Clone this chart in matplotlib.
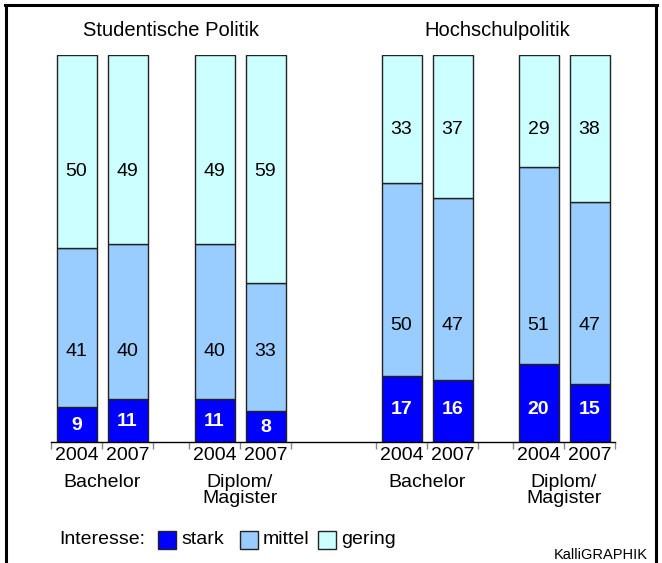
import matplotlib
matplotlib.use("Agg")
import matplotlib.pyplot as plt
from matplotlib.patches import Rectangle
from matplotlib.lines import Line2D

plt.rcParams['font.family'] = ['Liberation Sans', 'DejaVu Sans']

# ---- data ----
panels = ["Studentische Politik", "Hochschulpolitik"]
degrees = ["Bachelor", "Diplom/\nMagister"]
years = ["2004", "2007"]
stark = [9, 11, 11, 8, 17, 16, 20, 15]
mittel = [41, 40, 40, 33, 50, 47, 51, 47]
gering = [50, 49, 49, 59, 33, 37, 29, 38]
levels = ["stark", "mittel", "gering"]
legend_title = "Interesse:"
credit = "KalliGRAPHIK"

colors = {"stark": "#0000FF", "mittel": "#99CCFF", "gering": "#CCFFFF"}

W, H = 662, 563
fig = plt.figure(figsize=(W / 100, H / 100), dpi=100)

def fx(x):
    return x / W

def fy(y):
    return 1 - y / H

# axes: x in pixel units, y in percent
y_base, y_top = 441.5, 55
ax = fig.add_axes([0, fy(y_base), 1, fy(y_top) - fy(y_base)])
ax.set_xlim(0, W)
ax.set_ylim(0, 100)

centers = [76.5, 127.5, 214.5, 265.5, 401.5, 452.5, 538.5, 589.5]
bw = 40
edge = "#222222"
ax.bar(centers, stark, width=bw, color=colors["stark"], edgecolor=edge, linewidth=1.0)
ax.bar(centers, mittel, width=bw, bottom=stark, color=colors["mittel"], edgecolor=edge, linewidth=1.0)
bot2 = [s + m for s, m in zip(stark, mittel)]
ax.bar(centers, gering, width=bw, bottom=bot2, color=colors["gering"], edgecolor=edge, linewidth=1.0)

for sp in ["top", "left", "right"]:
    ax.spines[sp].set_visible(False)
ax.spines["bottom"].set_bounds(51, 615)
ax.spines["bottom"].set_linewidth(1.0)
ax.set_yticks([])
bounds = [51, 102, 153, 189, 240, 291, 376, 427, 478, 513, 564, 615]
ax.set_xticks(bounds)
ax.set_xticklabels([])
ax.tick_params(axis="x", direction="out", length=5, width=1, color="#888888")

fs = 14
# value labels
pix_per_pct = (y_base - y_top) / 100
row_y = {0: {"mittel": 351, "gering": 172}, 1: {"mittel": 325, "gering": 130, "stark": 410}}
for i, c in enumerate(centers):
    g = 0 if i < 4 else 1
    if g == 0:
        ys = y_base - stark[i] * pix_per_pct / 2 + 1
    else:
        ys = row_y[1]["stark"]
    fig.text(fx(c), fy(ys), str(stark[i]), ha="center", va="center",
             color="white", fontsize=fs, fontweight="bold")
    fig.text(fx(c), fy(row_y[g]["mittel"]), str(mittel[i]), ha="center", va="center",
             color="black", fontsize=fs)
    fig.text(fx(c), fy(row_y[g]["gering"]), str(gering[i]), ha="center", va="center",
             color="black", fontsize=fs)
    fig.text(fx(c), fy(455), years[i % 2], ha="center", va="center", fontsize=fs)

# degree labels
for k in range(4):
    cx = (centers[2 * k] + centers[2 * k + 1]) / 2
    fig.text(fx(cx), fy(474), degrees[k % 2], ha="center", va="top", fontsize=fs,
             linespacing=0.95)

# panel titles
fig.text(fx(171), fy(30), panels[0], ha="center", va="center", fontsize=14.5)
fig.text(fx(497), fy(30), panels[1], ha="center", va="center", fontsize=14.5)

# legend
ly = 540
fig.text(fx(59), fy(ly), legend_title, ha="left", va="center", fontsize=fs)
sq = 18
for x0, lab in zip([158, 240, 318], levels):
    fig.patches.append(Rectangle((fx(x0), fy(ly + sq / 2)), sq / W, sq / H,
                                 transform=fig.transFigure, facecolor=colors[lab],
                                 edgecolor=edge, linewidth=1.0))
    fig.text(fx(x0 + sq + 5), fy(ly), lab, ha="left", va="center", fontsize=fs)

fig.text(fx(648), fy(555), credit, ha="right", va="center", fontsize=10.5)

# frame
lw = 2.2
fig.add_artist(Line2D([fx(5), fx(657)], [fy(5), fy(5)], color="black", linewidth=lw,
                      transform=fig.transFigure))
fig.add_artist(Line2D([fx(6), fx(6)], [fy(5), fy(563)], color="black", linewidth=lw,
                      transform=fig.transFigure))
fig.add_artist(Line2D([fx(656), fx(656)], [fy(5), fy(563)], color="black", linewidth=lw,
                      transform=fig.transFigure))

fig.savefig("out.png", dpi=100)
